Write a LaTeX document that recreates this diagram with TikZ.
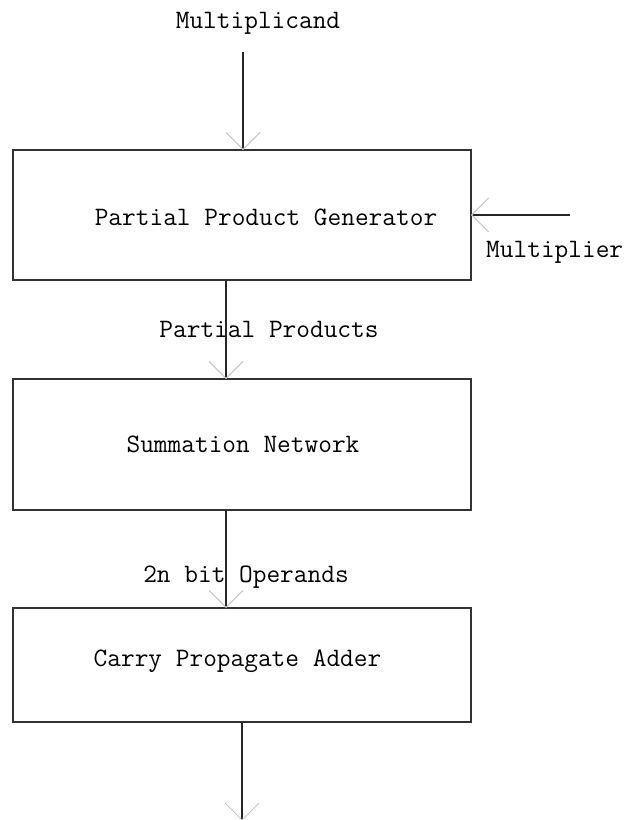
\documentclass[tikz,border=0pt]{standalone}
\usetikzlibrary{decorations.markings}
\begin{document}
\begin{tikzpicture}[x=1pt,y=-1pt,
  box/.style={draw=black!80,line width=1.2pt,minimum width=458pt,inner sep=0pt,fill=none},
  lbl/.style={inner sep=0pt,anchor=base,font=\fontsize{26.6}{30}\selectfont\ttfamily},
  conn/.style={draw=black!85,line width=1.2pt},
  vtip/.style={postaction={decorate,decoration={markings,
      mark=at position 1 with {\draw[draw=black!22,line width=1pt] (-17pt,17pt)--(0pt,0pt)--(-17pt,-17pt);}}}}
]
\useasboundingbox (0,0) rectangle (626,820);
% boxes
\node[box,minimum height=130pt] (b1) at (242,215) {};
\node[box,minimum height=131pt] (b2) at (242,444.5) {};
\node[box,minimum height=114pt] (b3) at (242,665) {};
% texts
\node[lbl] (t1) at (266,225) {Partial Product Generator};
\node[lbl] (t2) at (243,452) {Summation Network};
\node[lbl] (t3) at (237.5,666) {Carry Propagate Adder};
\node[lbl] (tm) at (258,28) {Multiplicand};
\node[lbl,anchor=base west] (tr) at (486,257) {Multiplier};
\node[lbl] (tp) at (269,337) {Partial Products};
\node[lbl] (to) at (246,582) {2n bit Operands};
% connector ends
\coordinate (m0) at (243,52);
\coordinate (r0) at (570,215);
\coordinate (out) at (242,820);
% connectors
\draw[conn,vtip] (m0) -- (m0 |- b1.north);
\draw[conn,vtip] (r0) -- (r0 -| b1.east);
\draw[conn,vtip] ([xshift=-16pt]b1.south) -- ([xshift=-16pt]b2.north);
\draw[conn,vtip] ([xshift=-16pt]b2.south) -- ([xshift=-16pt]b3.north);
\draw[conn,vtip] (b3.south) -- (out);
\end{tikzpicture}
\end{document}
